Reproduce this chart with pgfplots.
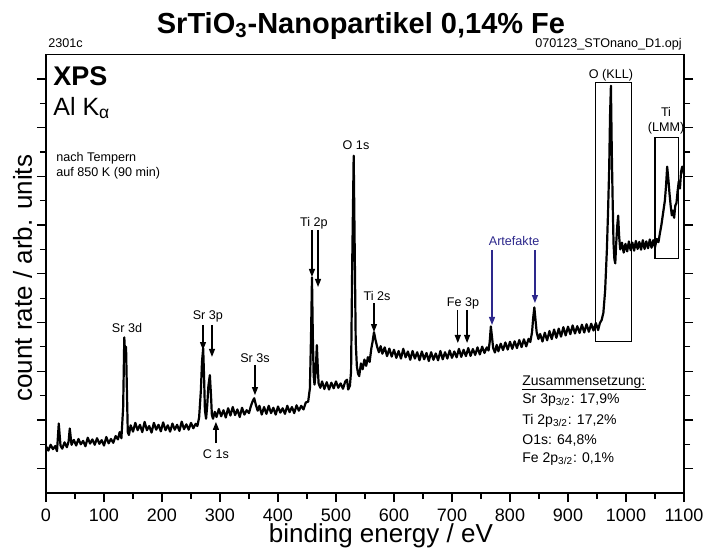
\documentclass[border=0pt]{standalone}
\usepackage{fontspec}
\setmainfont{Liberation Sans}
\usepackage{pgfplots}
\pgfplotsset{compat=1.18}
\usetikzlibrary{arrows.meta}
\definecolor{artblue}{RGB}{45,40,140}

\begin{document}
\begin{tikzpicture}
% 1 px of the reference = 0.5pt, axis box from (0,0) to (319pt,219.2pt)
\useasboundingbox (-23pt,-27.5pt) rectangle (328.5pt,246.5pt);
\begin{axis}[
    at={(0,0)}, anchor=south west,
    scale only axis,
    width=319pt, height=219.2pt,
    xmin=0, xmax=1100, ymin=0, ymax=18,
    xtick={0,100,...,1100},
    minor xtick={50,150,...,1050},
    ytick={1,3,...,17},
    minor ytick={2,4,...,16},
    yticklabels={},
    xtick pos=bottom,
    tick align=outside,
    major tick length=4.5pt,
    minor tick length=3pt,
    tick style={black, line width=0.6pt},
    axis line style={line width=0.8pt},
    clip=false,
    ticklabel style={font=\fontsize{9}{10}\selectfont},
    /pgf/number format/assume math mode=true,
    /pgf/number format/set thousands separator={},
    xlabel={binding energy / eV},
    ylabel={count rate / arb. units},
    xlabel style={font=\fontsize{13}{15}\selectfont, at={(axis description cs:0.525,-0.114)}, anchor=base},
    ylabel style={font=\fontsize{13}{15}\selectfont, at={(axis description cs:-0.022,0.49)}, anchor=base},
]
\addplot[black, line width=1.1pt, line join=round] coordinates {
(0,1.92) (4,1.74) (8,1.98) (12,1.80) (16,1.93) (19,1.72) (22,2.85) (25,1.95) (28,1.82) (32,2.08)
(36,1.88) (39,2.12) (41,2.65) (44,1.98) (48,2.18) (52,1.95) (56,2.22) (60,2.00) (64,2.14) (68,1.92)
(72,2.27) (76,2.03) (80,2.20) (84,1.98) (88,2.25) (92,2.02) (96,2.17) (100,1.95) (104,2.30) (108,2.04)
(112,2.22) (116,2.06) (120,2.34) (124,2.20) (127,2.50) (130,2.25) (133,3.5) (135,6.39) (136.5,5.6) (138,6.0)
(139.5,4.2) (141,2.5) (143,2.38) (146,2.78) (150,2.52) (154,2.88) (158,2.58) (162,2.80) (166,2.50) (170,2.92)
(174,2.58) (178,2.75) (182,2.48) (186,2.88) (190,2.60) (194,2.80) (198,2.53) (202,2.90) (206,2.58) (210,2.78)
(214,2.52) (218,2.85) (222,2.60) (226,2.80) (230,2.55) (234,2.93) (238,2.62) (242,2.82) (246,2.60) (250,2.88)
(254,2.66) (258,2.84) (261,2.75) (264,3.1) (267,4.2) (269,5.4) (271,5.94) (272.5,4.8) (274,3.4) (276,3.05)
(278,3.6) (280,4.4) (282.5,4.84) (284.5,4.0) (286,3.2) (288,3.05) (291,3.33) (294,3.12) (298,3.45) (302,3.15)
(306,3.40) (310,3.10) (314,3.48) (318,3.18) (322,3.53) (326,3.20) (330,3.43) (334,3.12) (338,3.50) (342,3.22)
(346,3.40) (350,3.28) (353,3.55) (356,3.75) (359,3.89) (362,3.60) (365,3.38) (368,3.58) (372,3.22) (376,3.53)
(380,3.25) (384,3.58) (388,3.28) (392,3.50) (396,3.22) (400,3.55) (404,3.30) (408,3.48) (412,3.25) (416,3.58)
(420,3.32) (424,3.53) (428,3.28) (432,3.60) (436,3.38) (440,3.58) (444,3.43) (448,3.72) (452,3.75) (455,4.3)
(457,6.5) (458.6,8.85) (460,6.5) (461.5,4.8) (463,4.45) (465,5.0) (467,6.07) (468.5,5.2) (470,4.5) (473,4.32)
(476,4.58) (480,4.27) (484,4.55) (488,4.25) (492,4.53) (496,4.30) (500,4.58) (504,4.32) (508,4.50) (512,4.28)
(516,4.58) (519,4.65) (521,4.25) (524,4.40) (526,5.0) (528,9.5) (530.5,13.85) (532.5,9.5) (534,6.2) (536,5.20)
(538,4.90) (540,4.80) (543,5.32) (546,5.08) (549,5.48) (552,5.22) (555,5.58) (558,5.38) (561,5.95) (563,6.2)
(565.5,6.6) (568,6.3) (571,6.00) (574,5.78) (577,6.03) (580,5.72) (584,5.98) (588,5.62) (592,5.93) (596,5.60)
(600,5.88) (604,5.55) (608,5.83) (612,5.52) (616,5.92) (620,5.57) (624,5.81) (628,5.47) (632,5.83) (636,5.52)
(640,5.78) (644,5.45) (648,5.81) (652,5.49) (656,5.75) (660,5.42) (664,5.78) (668,5.47) (672,5.73) (676,5.45)
(680,5.83) (684,5.49) (688,5.78) (692,5.52) (696,5.85) (700,5.55) (704,5.81) (708,5.57) (712,5.92) (716,5.59)
(720,5.88) (724,5.62) (728,5.95) (732,5.63) (736,5.91) (740,5.67) (744,5.98) (748,5.69) (752,6.01) (756,5.75)
(760,5.98) (763,5.85) (765,6.2) (767,6.84) (769,6.4) (771,5.95) (774,5.77) (777,6.08) (780,5.82) (784,6.13)
(788,5.87) (792,6.18) (796,5.89) (800,6.21) (804,5.92) (808,6.23) (812,5.95) (816,6.28) (820,5.99) (824,6.31)
(828,6.02) (832,6.33) (835,6.20) (838,6.6) (840,7.2) (842,7.62) (844,7.1) (846,6.6) (849,6.32) (852,6.53)
(856,6.22) (860,6.58) (864,6.27) (868,6.65) (872,6.32) (876,6.71) (880,6.37) (884,6.75) (888,6.42) (892,6.81)
(896,6.47) (900,6.83) (904,6.52) (908,6.88) (912,6.55) (916,6.85) (920,6.57) (924,6.91) (928,6.59) (932,6.93)
(936,6.62) (940,6.95) (944,6.67) (948,6.98) (952,6.69) (955,6.98) (958,7.1) (961,7.4) (964,8.3) (967,9.96)
(969,11.5) (971,13.3) (972.5,15.5) (974,16.72) (975.5,14.0) (977,12.0) (978.5,10.25) (980,9.6) (981.5,9.43) (983,10.2)
(985,11.0) (986.5,11.39) (988,10.6) (990,10.0) (993,10.28) (996,9.87) (999,10.23) (1002,9.92) (1005,10.33) (1008,9.97)
(1011,10.28) (1014,9.95) (1017,10.35) (1020,10.02) (1023,10.31) (1026,9.99) (1029,10.38) (1032,10.02) (1035,10.33) (1038,10.05)
(1041,10.41) (1044,10.07) (1047,10.38) (1050,10.09) (1053,10.43) (1056,10.30) (1058,10.6) (1061,11.0) (1064,11.5) (1067,12.0)
(1069,12.6) (1071,13.4) (1073,12.9) (1075,12.3) (1077,11.8) (1079,11.4) (1081,11.6) (1083,11.3) (1085,11.8) (1087,11.9)
(1089,12.4) (1091,12.8) (1093,12.5) (1095,13.2) (1097,13.4) (1100,13.1)
};
% peak labels
\begin{scope}[every node/.style={font=\fontsize{6.3}{7}\selectfont, anchor=base, inner sep=0pt}]
\node at (axis cs:139.7,6.60) {Sr 3d};
\node at (axis cs:279,7.12) {Sr 3p};
\node at (axis cs:293,1.42) {C 1s};
\node at (axis cs:360.3,5.35) {Sr 3s};
\node at (axis cs:462,10.95) {Ti 2p};
\node at (axis cs:534.5,14.1) {O 1s};
\node at (axis cs:570.7,7.90) {Ti 2s};
\node at (axis cs:719,7.65) {Fe 3p};
\node[text=artblue] at (axis cs:807,10.17) {Artefakte};
\node at (axis cs:974,17.02) {O (KLL)};
\node at (axis cs:1069,15.46) {Ti};
\node at (axis cs:1069,14.84) {(LMM)};
\end{scope}
% arrows
\begin{scope}[line width=0.6pt, -{Triangle[length=4pt,width=3pt]}]
\draw (axis cs:270.7,6.90) -- (axis cs:270.7,5.87);
\draw (axis cs:286.2,6.90) -- (axis cs:286.2,5.59);
\draw (axis cs:293,2.05) -- (axis cs:293,2.92);
\draw (axis cs:360.3,5.26) -- (axis cs:360.3,4.02);
\draw (axis cs:458.6,10.8) -- (axis cs:458.6,8.87);
\draw (axis cs:469,10.8) -- (axis cs:469,8.46);
\draw (axis cs:565.5,7.80) -- (axis cs:565.5,6.61);
\draw (axis cs:710,7.52) -- (axis cs:710,6.16);
\draw (axis cs:726,7.52) -- (axis cs:726,6.16);
\draw[artblue] (axis cs:769,9.98) -- (axis cs:769,6.90);
\draw[artblue] (axis cs:843,9.98) -- (axis cs:843,7.80);
\end{scope}
% boxes
\draw[line width=0.6pt] (axis cs:948,6.23) rectangle (axis cs:1010,16.84);
\draw[line width=0.6pt] (axis cs:1050,9.63) rectangle (axis cs:1090,14.59);
\end{axis}
% title and header
\node[anchor=base, inner sep=0pt, font=\bfseries\fontsize{14.5}{16}\selectfont] at (157.5pt,230pt) {SrTiO\textsubscript{3}-Nanopartikel 0,14\% Fe};
\node[anchor=base west, inner sep=0pt, font=\fontsize{6.3}{7}\selectfont] at (1pt,223pt) {2301c};
\node[anchor=base east, inner sep=0pt, font=\fontsize{6.3}{7}\selectfont] at (318pt,223pt) {070123\_STOnano\_D1.opj};
% side texts
\node[anchor=base west, inner sep=0pt, font=\bfseries\fontsize{13.5}{15}\selectfont] at (3.5pt,204pt) {XPS};
\node[anchor=base west, inner sep=0pt, font=\fontsize{12.5}{14}\selectfont] at (3.5pt,189pt) {Al K\textsubscript{α}};
\node[anchor=base west, inner sep=0pt, font=\fontsize{6.3}{7}\selectfont] at (5pt,166pt) {nach Tempern};
\node[anchor=base west, inner sep=0pt, font=\fontsize{6.3}{7}\selectfont] at (5pt,158.5pt) {auf 850 K (90 min)};
% composition
\begin{scope}[every node/.style={anchor=base west, inner sep=0pt, font=\fontsize{7}{8}\selectfont}]
\node at (238pt,54pt) {Zusammensetzung:};
\draw[line width=0.5pt] (238pt,52pt) -- (300pt,52pt);
\node at (238pt,45pt) {Sr 3p\textsubscript{3/2}: 17,9\%};
\node at (238pt,34.5pt) {Ti 2p\textsubscript{3/2}: 17,2\%};
\node at (238pt,24.5pt) {O1s: 64,8\%};
\node at (238pt,15.5pt) {Fe 2p\textsubscript{3/2}: 0,1\%};
\end{scope}
\end{tikzpicture}
\end{document}
